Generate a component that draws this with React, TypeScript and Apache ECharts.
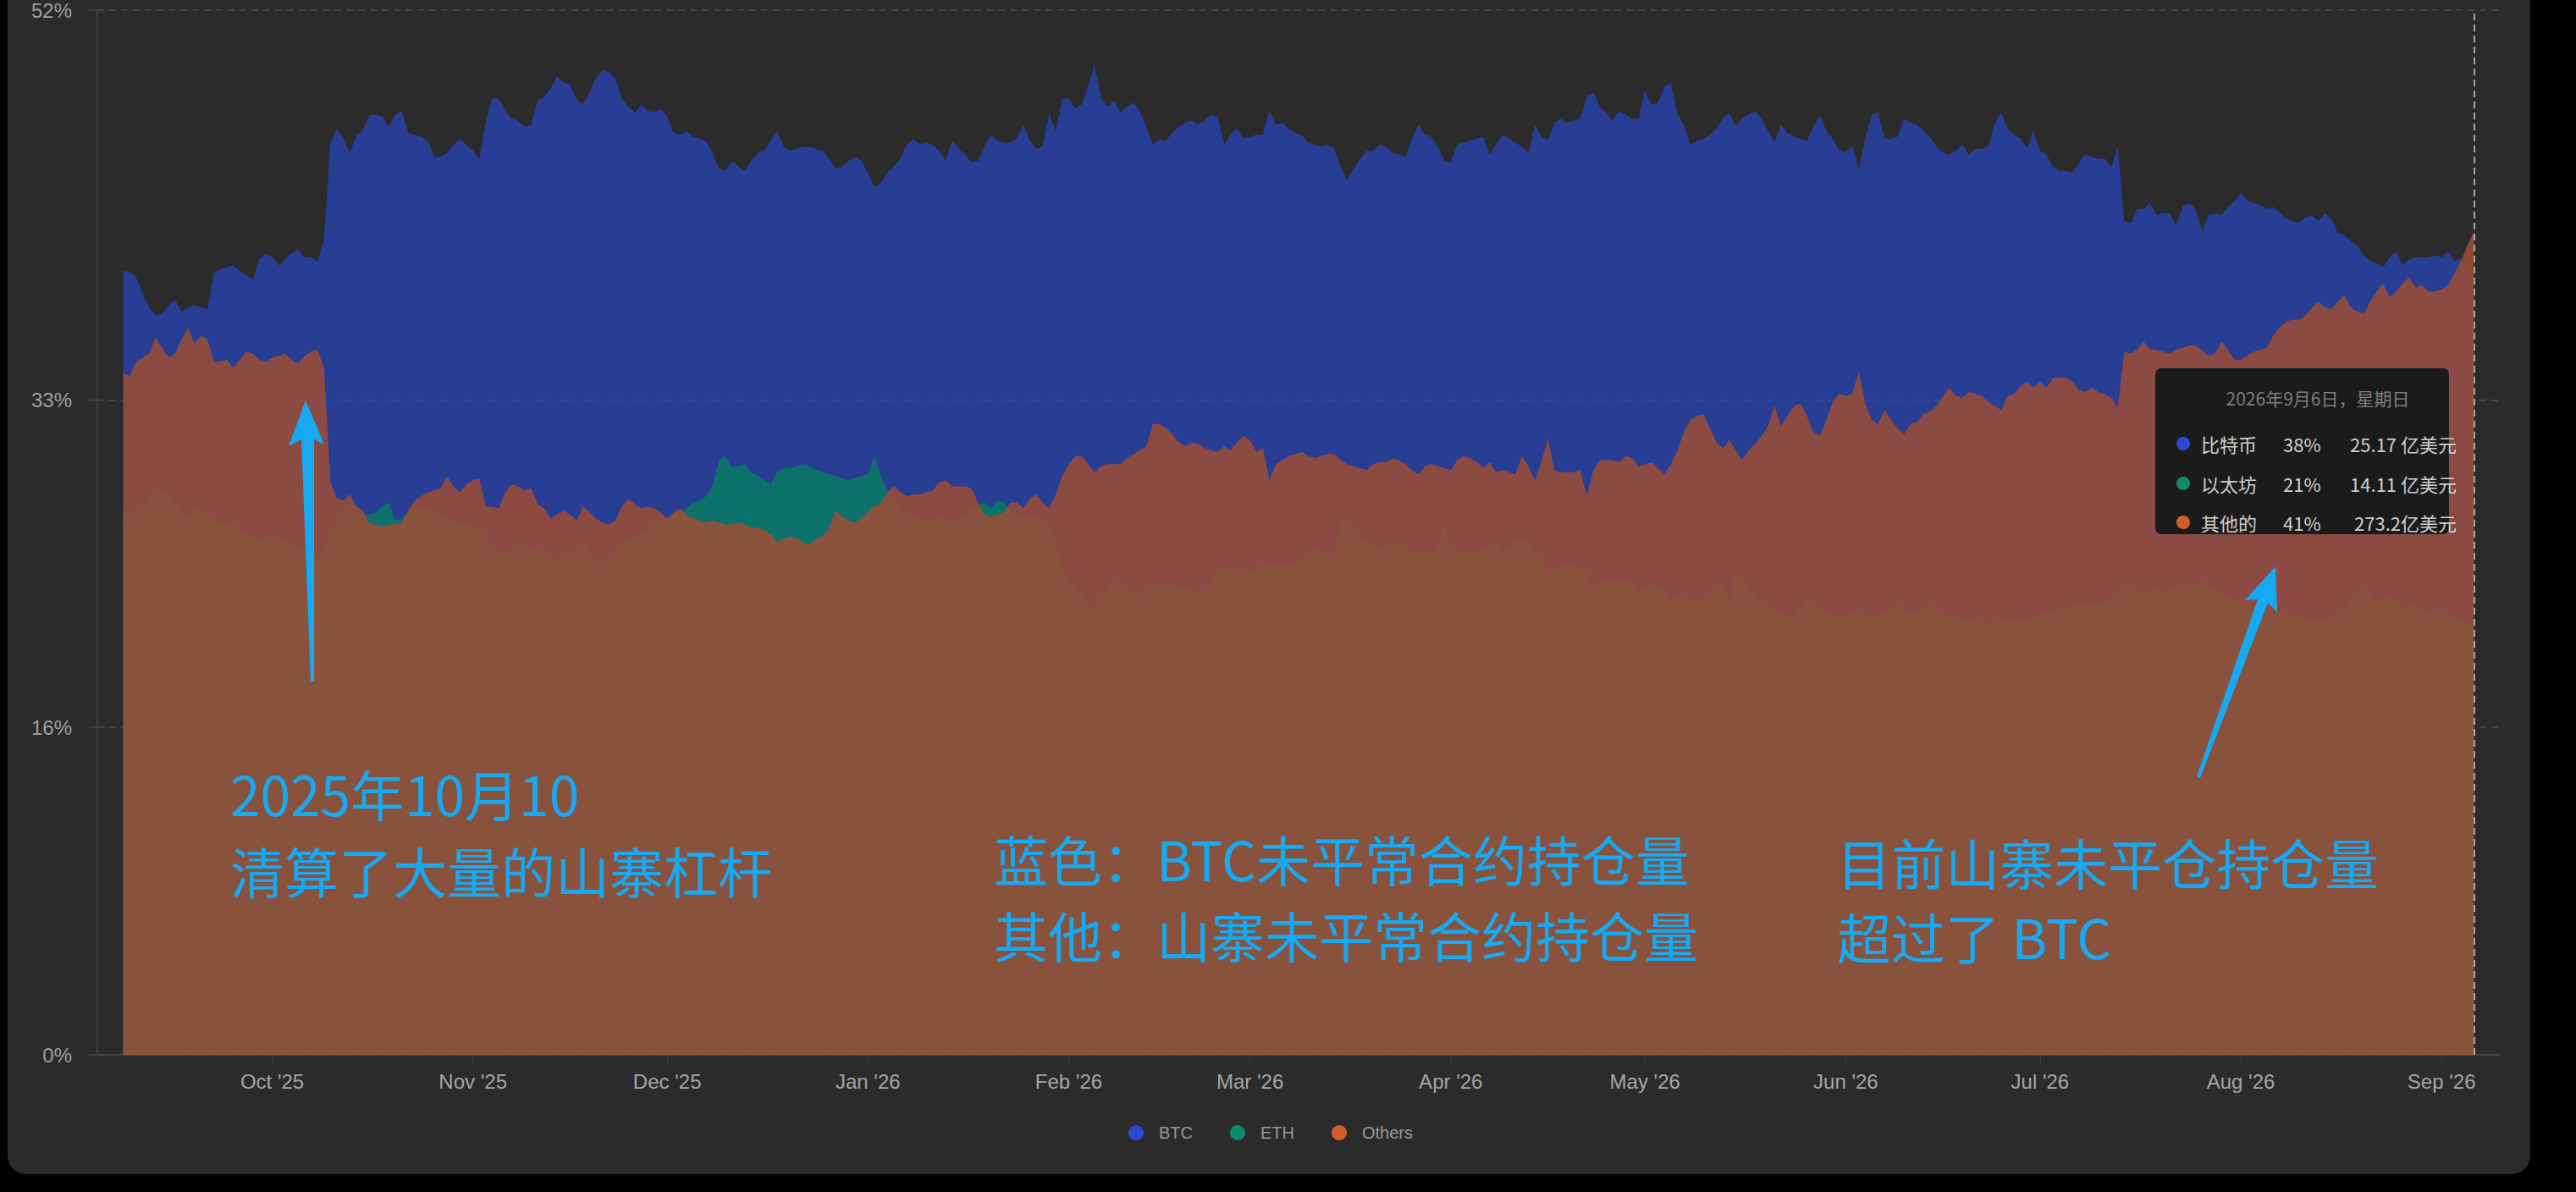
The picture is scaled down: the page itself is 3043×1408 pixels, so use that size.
import React, { useEffect, useRef } from 'react';
import * as echarts from 'echarts';

// ---------------- DATA ----------------
// daily open-interest share (%) from 2025-09-08 to 2026-09-06
const START_DATE = '2025-09-08';
const PAD_DAYS = 4;

const btcShare = [
  39.0, 39.0, 38.7, 37.9, 37.2, 36.8, 36.9, 37.3, 37.6, 37.0,
  37.2, 37.3, 37.2, 37.1, 38.9, 39.1, 39.2, 39.3, 39.0, 38.8,
  38.6, 39.6, 39.9, 39.7, 39.3, 39.6, 39.9, 40.1, 39.7, 39.7,
  39.5, 40.6, 45.4, 46.1, 45.6, 44.9, 45.8, 46.0, 46.8, 46.8,
  46.7, 46.2, 46.8, 47.0, 45.9, 45.8, 45.7, 45.5, 44.7, 44.7,
  44.9, 45.3, 45.6, 45.3, 45.0, 44.6, 46.5, 47.6, 47.6, 47.0,
  46.6, 46.5, 46.2, 46.3, 47.5, 47.7, 48.1, 48.7, 48.4, 48.3,
  47.6, 47.3, 47.9, 48.6, 49.0, 48.9, 48.6, 47.6, 47.2, 46.9,
  47.3, 47.0, 46.9, 47.1, 46.7, 45.9, 45.8, 46.0, 45.7, 45.6,
  45.5, 44.9, 44.1, 44.0, 44.5, 44.2, 44.0, 44.5, 44.9, 45.0,
  45.5, 46.0, 45.2, 45.0, 45.1, 45.2, 45.2, 45.1, 45.0, 44.6,
  44.1, 44.2, 44.5, 44.7, 44.5, 43.9, 43.2, 43.4, 43.9, 44.2,
  44.6, 45.3, 45.6, 45.3, 45.4, 45.3, 45.0, 44.5, 45.5, 45.1,
  44.8, 44.4, 44.5, 45.2, 45.8, 45.5, 45.4, 45.4, 45.6, 46.3,
  45.5, 45.1, 45.2, 46.9, 45.9, 47.6, 47.6, 47.1, 47.3, 48.2,
  49.3, 47.6, 47.2, 47.5, 46.9, 47.2, 47.4, 47.0, 46.2, 45.3,
  45.6, 45.5, 45.9, 46.2, 46.4, 46.5, 46.3, 46.5, 46.8, 46.7,
  45.3, 45.8, 46.1, 45.6, 45.7, 45.8, 45.8, 47.0, 46.3, 46.4,
  46.1, 45.9, 45.8, 45.4, 45.3, 45.2, 45.3, 45.1, 44.2, 43.5,
  44.1, 44.6, 45.0, 45.0, 45.3, 45.2, 44.9, 44.8, 44.7, 45.6,
  46.3, 45.8, 45.7, 45.2, 44.5, 44.4, 45.3, 45.4, 45.5, 45.6,
  45.7, 44.8, 45.3, 45.8, 45.6, 45.4, 45.2, 44.9, 46.3, 45.7,
  45.5, 46.4, 46.6, 46.4, 46.5, 46.6, 47.7, 47.9, 47.2, 46.9,
  46.5, 47.0, 46.8, 46.6, 46.6, 48.0, 47.3, 47.4, 48.2, 48.4,
  46.8, 46.3, 45.3, 45.5, 45.6, 45.8, 46.1, 46.6, 46.9, 46.2,
  46.6, 46.8, 47.0, 46.6, 46.0, 45.4, 46.3, 45.9, 45.7, 45.6,
  45.5, 46.2, 46.8, 46.0, 45.6, 45.0, 44.9, 45.3, 44.1, 45.6,
  46.8, 46.9, 45.6, 45.6, 45.7, 46.6, 46.4, 46.3, 46.0, 45.7,
  45.2, 44.9, 44.8, 45.0, 45.3, 44.8, 45.1, 45.1, 45.2, 46.4,
  46.9, 46.1, 45.8, 45.6, 45.1, 46.0, 45.0, 44.8, 44.2, 44.0,
  44.0, 43.9, 44.4, 44.8, 44.7, 44.6, 44.6, 44.2, 45.2, 41.5,
  41.4, 42.1, 42.1, 42.4, 41.8, 41.9, 41.9, 41.3, 42.2, 42.4,
  42.1, 41.0, 41.8, 41.9, 41.8, 42.2, 42.5, 42.9, 42.5, 42.4,
  42.3, 42.1, 42.2, 41.9, 41.6, 41.5, 41.4, 41.7, 41.8, 41.5,
  41.9, 41.6, 40.9, 40.8, 40.5, 40.3, 39.8, 39.5, 39.4, 39.2,
  39.7, 40.0, 39.3, 39.6, 39.7, 39.7, 39.7, 39.8, 39.7, 40.0,
  39.5, 39.7, 39.0, 38.0,
];

const ethShare = [
  27.3, 26.6, 27.0, 27.3, 27.7, 27.9, 28.1, 27.9, 27.5, 27.1,
  26.7, 27.3, 27.1, 26.9, 26.6, 26.5, 26.4, 26.4, 26.2, 26.0,
  25.8, 25.6, 25.7, 25.8, 25.7, 25.5, 25.4, 25.3, 25.2, 25.1,
  25.0, 25.1, 26.2, 26.5, 26.9, 27.2, 26.9, 26.8, 26.9, 27.0,
  27.3, 27.5, 26.6, 26.7, 27.0, 27.2, 27.3, 27.2, 27.1, 26.9,
  26.7, 26.6, 26.5, 26.4, 26.4, 26.1, 25.8, 25.2, 25.1, 25.0,
  25.0, 25.3, 25.6, 25.2, 25.1, 25.1, 24.8, 24.5, 24.7, 24.9,
  25.2, 25.5, 24.9, 24.6, 24.5, 24.8, 25.1, 25.6, 25.7, 25.8,
  26.0, 26.2, 26.4, 26.6, 26.7, 26.8, 27.0, 27.2, 27.5, 27.6,
  27.8, 28.3, 29.6, 29.8, 29.2, 29.3, 29.4, 29.0, 28.8, 28.6,
  28.4, 29.0, 29.2, 29.2, 29.3, 29.4, 29.3, 29.1, 29.0, 28.9,
  28.8, 28.7, 28.6, 28.7, 28.8, 28.9, 29.8, 28.8, 28.1, 27.6,
  27.3, 26.9, 26.8, 26.7, 26.7, 26.6, 26.8, 26.7, 26.4, 26.6,
  26.8, 27.2, 27.4, 27.5, 27.2, 27.6, 27.5, 27.1, 26.9, 26.7,
  26.9, 26.8, 26.6, 26.4, 25.5, 24.2, 23.6, 23.2, 22.9, 22.4,
  22.2, 22.8, 23.1, 23.5, 23.6, 23.3, 23.0, 22.9, 23.1, 23.3,
  23.4, 23.4, 23.4, 23.3, 23.2, 23.1, 23.0, 23.1, 23.5, 24.1,
  24.4, 24.2, 23.8, 23.9, 24.1, 24.2, 24.4, 24.5, 24.4, 24.3,
  24.4, 24.5, 24.7, 24.9, 25.2, 25.1, 25.0, 24.9, 26.5, 26.5,
  26.0, 25.8, 25.6, 25.4, 25.2, 25.3, 25.4, 25.5, 25.4, 25.0,
  25.0, 24.9, 25.0, 25.2, 26.2, 25.3, 25.1, 25.0, 25.0, 25.1,
  25.2, 25.4, 25.6, 25.1, 25.2, 25.6, 25.6, 25.5, 25.0, 24.6,
  23.7, 24.1, 24.4, 24.5, 24.5, 24.3, 24.0, 23.2, 23.5, 23.7,
  23.5, 23.5, 23.7, 23.4, 23.0, 23.3, 23.4, 23.3, 23.2, 22.6,
  22.8, 23.0, 22.7, 22.4, 22.8, 23.0, 23.4, 23.6, 22.6, 24.0,
  23.6, 23.2, 22.9, 22.6, 22.4, 22.2, 22.0, 21.9, 21.8, 22.3,
  22.8, 22.5, 22.2, 22.1, 22.0, 21.8, 21.9, 22.1, 22.2, 22.0,
  21.8, 21.9, 22.1, 22.3, 22.4, 22.2, 22.0, 22.1, 22.3, 22.4,
  22.2, 21.9, 21.8, 21.8, 21.7, 21.6, 21.6, 21.5, 21.5, 21.5,
  21.6, 21.6, 21.7, 21.7, 21.7, 21.8, 21.9, 22.0, 22.1, 22.2,
  22.2, 22.3, 22.4, 22.4, 22.5, 22.4, 22.6, 22.8, 23.0, 23.3,
  23.5, 23.1, 22.8, 23.1, 23.2, 23.0, 23.1, 23.3, 23.4, 23.0,
  23.3, 23.6, 23.4, 23.2, 23.0, 22.8, 22.6, 22.5, 22.4, 22.3,
  22.2, 22.1, 22.0, 22.0, 21.9, 21.8, 21.8, 21.7, 21.7, 21.6,
  21.5, 21.6, 22.0, 22.3, 22.7, 23.0, 23.2, 23.0, 22.6, 22.7,
  22.8, 22.5, 22.2, 22.4, 22.3, 22.0, 22.1, 22.2, 22.0, 21.8,
  21.8, 21.7, 21.4, 21.0,
];

const othersShare = [
  33.9, 33.8, 34.5, 34.7, 34.9, 35.7, 35.2, 34.7, 34.9, 35.6,
  36.2, 35.4, 35.8, 35.6, 34.5, 34.5, 34.6, 34.2, 34.6, 35.0,
  34.9, 34.6, 34.5, 34.7, 34.8, 34.9, 34.6, 34.4, 34.8, 35.0,
  35.1, 34.2, 28.5, 27.7, 27.6, 27.9, 27.3, 27.1, 26.5, 26.4,
  26.3, 26.4, 26.4, 26.5, 27.1, 27.6, 27.8, 28.0, 28.1, 28.2,
  28.8, 28.3, 28.0, 28.4, 28.6, 28.7, 27.3, 27.3, 27.2, 28.0,
  28.4, 28.3, 28.1, 28.2, 27.4, 27.2, 26.7, 26.9, 27.1, 26.9,
  26.6, 27.3, 27.0, 26.7, 26.5, 26.4, 26.6, 27.3, 27.7, 27.4,
  27.2, 27.3, 27.2, 27.0, 26.7, 27.0, 27.2, 26.9, 26.7, 26.6,
  26.5, 26.6, 26.5, 26.4, 26.4, 26.5, 26.4, 26.2, 26.3, 26.1,
  25.9, 25.5, 25.7, 25.8, 25.7, 25.5, 25.4, 25.7, 25.8, 26.2,
  27.1, 26.8, 26.6, 26.5, 26.7, 27.0, 27.3, 27.5, 28.0, 28.3,
  28.0, 27.8, 27.9, 27.9, 28.0, 28.1, 28.5, 28.6, 28.3, 28.3,
  28.3, 28.2, 27.5, 26.9, 26.8, 26.9, 27.0, 27.5, 27.5, 27.2,
  27.7, 27.9, 27.5, 27.2, 27.9, 28.8, 29.4, 29.8, 29.8, 29.4,
  29.0, 29.3, 29.4, 29.4, 29.4, 29.7, 29.9, 30.1, 30.3, 31.4,
  31.4, 31.2, 30.9, 30.5, 30.3, 30.5, 30.4, 30.2, 30.1, 30.0,
  30.3, 30.1, 30.5, 30.8, 30.6, 30.0, 30.2, 28.6, 29.4, 29.6,
  29.8, 29.9, 30.0, 29.8, 29.7, 29.8, 29.9, 29.9, 29.6, 29.4,
  29.3, 29.2, 29.1, 29.4, 29.5, 29.5, 29.7, 29.6, 29.4, 29.1,
  28.9, 29.3, 29.4, 29.3, 29.2, 29.1, 29.6, 29.8, 29.7, 29.5,
  29.2, 29.5, 29.0, 29.1, 29.0, 28.9, 29.8, 29.3, 28.6, 29.5,
  30.7, 29.1, 29.0, 29.0, 29.0, 29.1, 27.8, 29.1, 29.6, 29.6,
  29.6, 29.5, 29.8, 29.7, 29.3, 29.4, 29.5, 29.2, 28.9, 29.4,
  30.1, 31.0, 31.6, 31.8, 31.9, 31.2, 30.5, 30.2, 30.6, 30.1,
  29.6, 30.1, 30.4, 30.8, 31.3, 32.3, 31.3, 31.8, 32.3, 32.4,
  31.8, 31.0, 30.8, 31.6, 32.5, 32.9, 32.8, 32.9, 34.0, 32.4,
  31.6, 31.4, 32.1, 31.6, 31.2, 30.9, 31.4, 31.5, 31.9, 32.0,
  32.3, 32.8, 33.2, 32.8, 32.7, 33.0, 32.9, 32.8, 32.5, 32.3,
  32.1, 32.8, 32.9, 33.3, 33.5, 33.2, 33.5, 33.2, 33.7, 33.7,
  33.7, 33.5, 33.1, 33.0, 33.2, 33.0, 32.9, 32.7, 32.2, 35.0,
  34.9, 35.1, 35.5, 35.1, 35.1, 35.0, 34.9, 35.1, 35.2, 35.3,
  35.3, 35.1, 34.8, 34.9, 35.5, 35.1, 34.6, 34.6, 34.8, 35.0,
  35.1, 35.2, 35.8, 36.2, 36.5, 36.6, 36.6, 36.8, 37.2, 37.5,
  37.2, 37.1, 37.5, 37.8, 37.2, 37.0, 36.9, 37.5, 38.0, 38.4,
  37.7, 38.0, 38.4, 38.7, 38.2, 38.3, 38.0, 38.0, 38.1, 38.3,
  38.9, 39.5, 40.3, 41.0,
];

const seriesNames = ['BTC', 'ETH', 'Others'];
const legendColors = ['#2a4bd0', '#0f8a6f', '#d0602a'];
const areaColors = ['rgba(38,72,200,0.67)', 'rgba(8,128,98,0.8)', 'rgba(155,77,55,0.88)'];
const yTickValues = [0, 16.3, 32.6, 52];
const monthNames = ['Jan', 'Feb', 'Mar', 'Apr', 'May', 'Jun', 'Jul', 'Aug', 'Sep', 'Oct', 'Nov', 'Dec'];

const tooltipDate = '2026年9月6日，星期日';
const tooltipNames = ['比特币', '以太坊', '其他的'];
const tooltipPcts = ['38%', '21%', '41%'];
const tooltipAmounts = ['25.17 亿美元', '14.11 亿美元', '273.2亿美元'];

const noteLeft = ['2025年10月10', '清算了大量的山寨杠杆'];
const noteMiddle = ['蓝色：BTC未平常合约持仓量', '其他：山寨未平常合约持仓量'];
const noteRight = ['目前山寨未平仓持仓量', '超过了 BTC'];

// ---------------- HELPERS ----------------
function buildDates(): string[] {
  const [y, m, d] = START_DATE.split('-').map(Number);
  const start = Date.UTC(y, m - 1, d) - PAD_DAYS * 86400000;
  const total = btcShare.length + PAD_DAYS * 2;
  const out: string[] = [];
  for (let i = 0; i < total; i++) {
    out.push(new Date(start + i * 86400000).toISOString().slice(0, 10));
  }
  return out;
}

const pad = (arr: number[]) => [
  ...new Array(PAD_DAYS).fill(null),
  ...arr,
  ...new Array(PAD_DAYS).fill(null),
];

const CJK = '"Noto Sans CJK SC", "Noto Sans", sans-serif';
const LATIN = '"Liberation Sans", Arial, sans-serif';
const NOTE_COLOR = '#17a9f2';

export default function App() {
  const ref = useRef<HTMLDivElement>(null);

  useEffect(() => {
    if (!ref.current) return;
    const chart = echarts.init(ref.current, null, { renderer: 'svg' });
    const dates = buildDates();
    const lastDate = dates[PAD_DAYS + btcShare.length - 1];
    const isMonthStart = (_i: number, v: string) => v.slice(8, 10) === '01';
    const values = [btcShare, ethShare, othersShare];

    const series: any[] = values.map((arr, i) => ({
      name: seriesNames[i],
      type: 'line',
      data: pad(arr),
      symbol: 'none',
      showSymbol: false,
      connectNulls: false,
      lineStyle: { width: 0 },
      itemStyle: { color: legendColors[i] },
      areaStyle: { color: areaColors[i], opacity: 1 },
      emphasis: { disabled: true },
      silent: true,
      z: 2 + i,
    }));
    series[2].markLine = {
      silent: true,
      symbol: ['none', 'none'],
      label: { show: false },
      lineStyle: { type: [8, 5], color: '#c4c4c4', width: 1.6 },
      data: [{ xAxis: lastDate }],
    };

    const graphics: any[] = [];
    const addLines = (lines: string[], x: number, ys: number[]) => {
      lines.forEach((t, i) =>
        graphics.push({
          type: 'text',
          x,
          y: ys[i],
          z: 100,
          style: { text: t, fill: NOTE_COLOR, font: `64px ${CJK}`, align: 'left', verticalAlign: 'middle' },
        })
      );
    };
    addLines(noteLeft, 272, [936, 1027]);
    addLines(noteMiddle, 1174, [1013, 1103]);
    addLines(noteRight, 2170, [1017, 1105]);

    graphics.push({
      type: 'polygon',
      z: 100,
      shape: {
        points: [
          [361, 473], [383, 525], [371, 519], [371, 805], [367, 805], [356, 519], [341, 527],
        ],
      },
      style: { fill: NOTE_COLOR },
    });
    graphics.push({
      type: 'polygon',
      z: 100,
      shape: {
        points: [
          [2688, 669], [2690, 723], [2679, 712], [2599, 919], [2595, 917], [2667, 708], [2652, 709],
        ],
      },
      style: { fill: NOTE_COLOR },
    });

    graphics.push({
      type: 'rect',
      z: 110,
      shape: { x: 2546, y: 435, width: 347, height: 196, r: 7 },
      style: { fill: '#1b1b1b' },
    });
    graphics.push({
      type: 'text',
      z: 111,
      x: 2738,
      y: 470,
      style: { text: tooltipDate, fill: '#7e7e7e', font: `21px ${CJK}`, align: 'center', verticalAlign: 'middle' },
    });
    const rowY = [524, 571, 617];
    rowY.forEach((y, i) => {
      graphics.push({ type: 'circle', z: 111, shape: { cx: 2579, cy: y, r: 8 }, style: { fill: legendColors[i] } });
      graphics.push({
        type: 'text', z: 111, x: 2600, y,
        style: { text: tooltipNames[i], fill: '#cfcfcf', font: `22px ${CJK}`, align: 'left', verticalAlign: 'middle' },
      });
      graphics.push({
        type: 'text', z: 111, x: 2697, y,
        style: { text: tooltipPcts[i], fill: '#cfcfcf', font: `22px ${CJK}`, align: 'left', verticalAlign: 'middle' },
      });
      graphics.push({
        type: 'text', z: 111, x: 2902, y,
        style: { text: tooltipAmounts[i], fill: '#cfcfcf', font: `22px ${CJK}`, align: 'right', verticalAlign: 'middle' },
      });
    });

    chart.setOption({
      animation: false,
      backgroundColor: 'transparent',
      textStyle: { fontFamily: LATIN },
      grid: { left: 115, right: 90, top: 12, bottom: 162, containLabel: false },
      legend: {
        data: seriesNames,
        left: 1333,
        top: 1328,
        padding: 0,
        icon: 'circle',
        itemWidth: 44,
        itemHeight: 18,
        itemGap: 44,
        itemStyle: { borderWidth: 0 },
        textStyle: { color: '#9a9a9a', fontSize: 20, fontFamily: LATIN },
        selectedMode: false,
      },
      xAxis: {
        type: 'category',
        data: dates,
        boundaryGap: false,
        axisLine: { show: true, lineStyle: { color: '#4a4a4a', width: 1.5 } },
        axisTick: { show: true, interval: isMonthStart, length: 10, lineStyle: { color: '#3c3c3c' } },
        axisLabel: {
          interval: isMonthStart,
          color: '#a6a6a6',
          fontSize: 24,
          margin: 19,
          fontFamily: LATIN,
          formatter: (v: string) => `${monthNames[Number(v.slice(5, 7)) - 1]} '${v.slice(2, 4)}`,
        },
        splitLine: { show: false },
      },
      yAxis: {
        type: 'value',
        min: 0,
        max: 52,
        axisLine: { show: true, lineStyle: { color: '#4a4a4a', width: 1.5 } },
        axisTick: { show: true, length: 10, customValues: yTickValues, lineStyle: { color: '#4a4a4a', width: 1.5 } },
        axisLabel: {
          customValues: yTickValues,
          color: '#a0a0a0',
          fontSize: 24,
          margin: 30,
          fontFamily: LATIN,
          formatter: (v: number) => `${Math.round(v)}%`,
        },
        splitLine: { show: true, lineStyle: { type: [8, 6], color: '#4d4d4d', width: 1.5 } },
      },
      series,
      graphic: graphics,
    });
    return () => chart.dispose();
  }, []);

  return (
    <div style={{ position: 'fixed', left: 0, top: 0, width: 3043, height: 1408, background: '#000', overflow: 'hidden' }}>
      <div style={{ position: 'absolute', left: 9, top: -30, width: 2980, height: 1417, background: '#2b2b2b', borderRadius: 22 }} />
      <div ref={ref} style={{ position: 'absolute', left: 0, top: 0, width: 3043, height: 1408 }} />
    </div>
  );
}
